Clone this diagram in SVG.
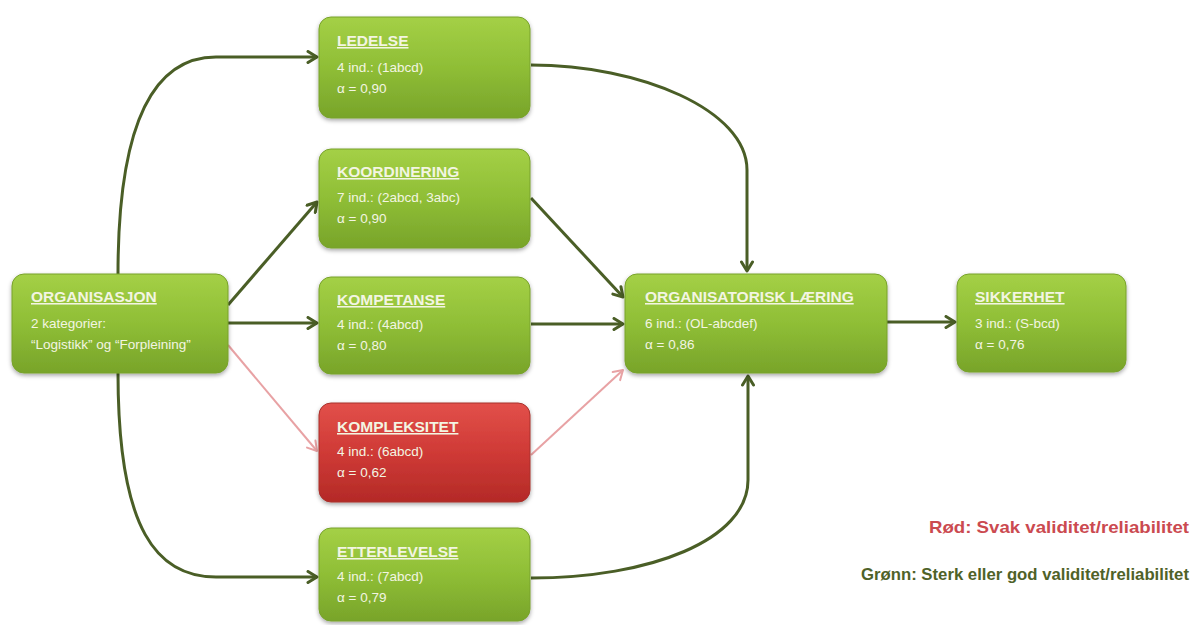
<svg xmlns="http://www.w3.org/2000/svg" width="1196" height="625" viewBox="0 0 1196 625">
  <defs>
    <linearGradient id="gGreen" x1="0" y1="0" x2="0" y2="1">
      <stop offset="0" stop-color="#a4d046"/>
      <stop offset="0.5" stop-color="#8fbe36"/>
      <stop offset="1" stop-color="#78a42a"/>
    </linearGradient>
    <linearGradient id="gRed" x1="0" y1="0" x2="0" y2="1">
      <stop offset="0" stop-color="#e2504a"/>
      <stop offset="0.5" stop-color="#cf3a36"/>
      <stop offset="1" stop-color="#b42a27"/>
    </linearGradient>
    <filter id="shadow" x="-10%" y="-10%" width="120%" height="130%">
      <feDropShadow dx="0" dy="2" stdDeviation="2" flood-color="#000" flood-opacity="0.35"/>
    </filter>
    <marker id="arrDark" markerUnits="userSpaceOnUse" markerWidth="14" markerHeight="14" viewBox="0 0 14 14" refX="12" refY="7" orient="auto">
      <path d="M3,1.5 L12,7 L3,12.5" fill="none" stroke="#4a5e26" stroke-width="3" stroke-linecap="round" stroke-linejoin="round"/>
    </marker>
    <marker id="arrPink" markerUnits="userSpaceOnUse" markerWidth="14" markerHeight="14" viewBox="0 0 14 14" refX="12" refY="7" orient="auto">
      <path d="M3,1.5 L12,7 L3,12.5" fill="none" stroke="#e8a2a4" stroke-width="2" stroke-linecap="round" stroke-linejoin="round"/>
    </marker>
    <style>
      .box { stroke-width: 1; filter: url(#shadow); }
      .green { fill: url(#gGreen); stroke: #78a22c; }
      .red { fill: url(#gRed); stroke: #a8302c; }
      .title { font-family: "Liberation Sans", Arial, sans-serif; font-weight: bold; font-size: 15.5px; fill: #f3f5e2; text-decoration: underline; }
      .body { font-family: "Liberation Sans", Arial, sans-serif; font-size: 13.5px; fill: #f3f5e2; }
      .conn { fill: none; stroke: #4a5e26; stroke-width: 3; marker-end: url(#arrDark); }
      .weak { fill: none; stroke: #e8a2a4; stroke-width: 2; marker-end: url(#arrPink); }
      .legend { font-family: "Liberation Sans", Arial, sans-serif; font-weight: bold; font-size: 17px; text-anchor: end; }
    </style>
  </defs>

  <rect width="1196" height="625" fill="#ffffff"/>

  <!-- connectors -->
  <g id="connectors">
    <path class="conn" d="M118,274 C118,115 158,57 216,57 L317,57"/>
    <path class="conn" d="M228,305 L317,202"/>
    <path class="conn" d="M228,323 L317,323"/>
    <path class="weak" d="M228,345 L317,451"/>
    <path class="conn" d="M118,373 C118,532 158,577 216,577 L317,577"/>
    <path class="conn" d="M531,65 C640,65 747,110 747,170 L747,271"/>
    <path class="conn" d="M531,198 L623,297"/>
    <path class="conn" d="M531,324 L623,324"/>
    <path class="weak" d="M531,455 L623,370"/>
    <path class="conn" d="M531,578 C650,578 748,540 748,480 L748,376"/>
    <path class="conn" d="M887,322 L955,322"/>
  </g>

  <g id="organisasjon">
    <rect class="box green" x="12" y="274" width="216" height="99" rx="12"/>
    <text class="title" x="31" y="302">ORGANISASJON</text>
    <text class="body" x="31" y="328">2 kategorier:</text>
    <text class="body" x="31" y="349">“Logistikk” og “Forpleining”</text>
  </g>

  <g id="ledelse">
    <rect class="box green" x="319" y="17" width="211" height="101" rx="12"/>
    <text class="title" x="337" y="46">LEDELSE</text>
    <text class="body" x="337" y="72">4 ind.: (1abcd)</text>
    <text class="body" x="337" y="93">α = 0,90</text>
  </g>

  <g id="koordinering">
    <rect class="box green" x="319" y="149" width="211" height="99" rx="12"/>
    <text class="title" x="337" y="177">KOORDINERING</text>
    <text class="body" x="337" y="202">7 ind.: (2abcd, 3abc)</text>
    <text class="body" x="337" y="223">α = 0,90</text>
  </g>

  <g id="kompetanse">
    <rect class="box green" x="319" y="277" width="211" height="97" rx="12"/>
    <text class="title" x="337" y="305">KOMPETANSE</text>
    <text class="body" x="337" y="329">4 ind.: (4abcd)</text>
    <text class="body" x="337" y="350">α = 0,80</text>
  </g>

  <g id="kompleksitet">
    <rect class="box red" x="319" y="403" width="211" height="99" rx="12"/>
    <text class="title" x="337" y="432">KOMPLEKSITET</text>
    <text class="body" x="337" y="456">4 ind.: (6abcd)</text>
    <text class="body" x="337" y="477">α = 0,62</text>
  </g>

  <g id="etterlevelse">
    <rect class="box green" x="319" y="528" width="211" height="93" rx="12"/>
    <text class="title" x="337" y="557">ETTERLEVELSE</text>
    <text class="body" x="337" y="581">4 ind.: (7abcd)</text>
    <text class="body" x="337" y="602">α = 0,79</text>
  </g>

  <g id="organisatorisk-laering">
    <rect class="box green" x="625" y="274" width="262" height="99" rx="12"/>
    <text class="title" x="645" y="302">ORGANISATORISK LÆRING</text>
    <text class="body" x="645" y="328">6 ind.: (OL-abcdef)</text>
    <text class="body" x="645" y="349">α = 0,86</text>
  </g>

  <g id="sikkerhet">
    <rect class="box green" x="957" y="274" width="169" height="98" rx="12"/>
    <text class="title" x="975" y="302">SIKKERHET</text>
    <text class="body" x="975" y="328">3 ind.: (S-bcd)</text>
    <text class="body" x="975" y="349">α = 0,76</text>
  </g>

  <g id="legend">
    <text class="legend" x="1189" y="533" fill="#cb4a50" textLength="260" lengthAdjust="spacingAndGlyphs">Rød: Svak validitet/reliabilitet</text>
    <text class="legend" x="1189" y="580" fill="#4f6228" textLength="328" lengthAdjust="spacingAndGlyphs">Grønn: Sterk eller god validitet/reliabilitet</text>
  </g>
</svg>
